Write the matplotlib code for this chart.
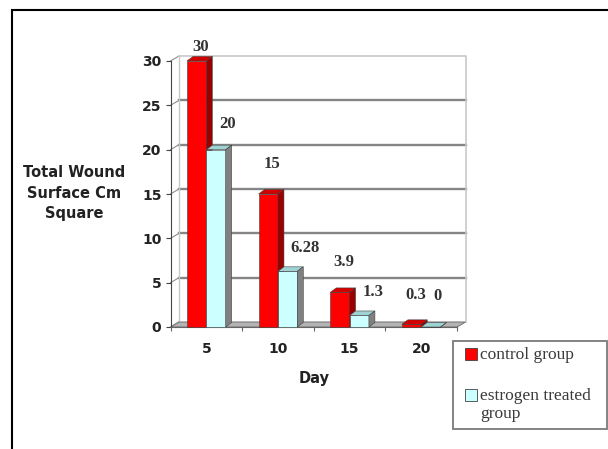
import matplotlib
matplotlib.use("Agg")
import matplotlib.pyplot as plt
from matplotlib.patches import Polygon, Rectangle

# wound surface (cm^2) by day
days = ["5", "10", "15", "20"]
control = [30, 15, 3.9, 0.3]
estrogen = [20, 6.28, 1.3, 0]
series_names = ["control group", "estrogen treated\ngroup"]

W, H = 608, 449
fig = plt.figure(figsize=(W / 100, H / 100), dpi=100)

def fx(px):
    return px / W

def fy(py):
    return 1 - py / H

# front plane of the plot
left, right, top, bottom = 170.5, 457, 61, 327
ax = fig.add_axes([fx(left), fy(bottom), fx(right - left), (bottom - top) / H])
ax.set_xlim(0, 4)
ax.set_ylim(0, 30)

# pixel -> data scale for the fake depth
px_x = (right - left) / 4
px_y = (bottom - top) / 30
wall_dx, wall_dy = 8.5 / px_x, 5 / px_y
bar_dx, bar_dy = 6 / px_x, 4.5 / px_y

# back wall, gridlines and floor
for v in range(5, 30, 5):
    ax.plot([wall_dx, 4 + wall_dx], [v + wall_dy, v + wall_dy], color="#858585",
            lw=1.7, clip_on=False, zorder=1)
for v in range(0, 31, 5):
    ax.plot([0, wall_dx], [v, v + wall_dy], color="#8c8c8c", lw=0.8, clip_on=False, zorder=1)
ax.plot([wall_dx, 4 + wall_dx, 4 + wall_dx], [30 + wall_dy, 30 + wall_dy, wall_dy],
        color="#c8c8c8", lw=1.2, clip_on=False, zorder=1)
ax.plot([wall_dx, wall_dx], [wall_dy, 30 + wall_dy], color="#c8c8c8", lw=1.0,
        clip_on=False, zorder=1)
ax.add_patch(Polygon([(0, 0), (4, 0), (4 + wall_dx, wall_dy), (wall_dx, wall_dy)],
                     closed=True, facecolor="#b4b4b4", edgecolor="#7a7a7a", lw=0.8,
                     clip_on=False, zorder=2))

def bar3d(x0, w, h, front, top_c, side_c, z):
    ax.bar(x0, h, width=w, align="edge", color=front, edgecolor="#404040", lw=0.4,
           clip_on=False, zorder=z)
    ax.add_patch(Polygon([(x0, h), (x0 + w, h), (x0 + w + bar_dx, h + bar_dy),
                          (x0 + bar_dx, h + bar_dy)], closed=True, facecolor=top_c,
                         edgecolor="#404040", lw=0.4, clip_on=False, zorder=z))
    ax.add_patch(Polygon([(x0 + w, 0), (x0 + w + bar_dx, bar_dy),
                          (x0 + w + bar_dx, h + bar_dy), (x0 + w, h)], closed=True,
                         facecolor=side_c, edgecolor="#404040", lw=0.4, clip_on=False,
                         zorder=z))

bw = 0.27
red_dy = [14, 30, 30, 29]
cyan_dy = [26, 23, 23, 31]
label_style = dict(family="Liberation Serif", fontsize=12, fontweight="bold",
                   color="#333333", va="center", textcoords="offset pixels",
                   annotation_clip=False)
for i in range(len(days)):
    c = i + 0.5
    bar3d(c - bw, bw, control[i], "#ff0000", "#d40000", "#990000", 3 + 2 * i)
    bar3d(c, bw, estrogen[i], "#ccffff", "#9fd3d3", "#808080", 4 + 2 * i)
    ax.annotate(f"{control[i]:g}", (c - bw / 2, control[i]), xytext=(4, red_dy[i]),
                ha="center", **label_style)
    ax.annotate(f"{estrogen[i]:g}", (c + bw / 2, estrogen[i]), xytext=(3, cyan_dy[i]),
                ha="left", **label_style)

# axes and ticks
for s in ("top", "right"):
    ax.spines[s].set_visible(False)
ax.spines["left"].set_color("#444444")
ax.spines["bottom"].set_color("#666666")
ax.set_yticks(range(0, 31, 5))
ax.set_xticks(range(5))
ax.set_xticklabels([])
ax.set_xticks([i + 0.5 for i in range(4)], minor=True)
ax.set_xticklabels(days, minor=True)
ax.tick_params(axis="y", length=3.5, width=0.8, color="#444444", pad=3,
               labelsize=10, labelcolor="#222222")
ax.tick_params(axis="x", which="major", length=3, width=0.8, color="#666666")
ax.tick_params(axis="x", which="minor", length=0, pad=11, labelsize=10,
               labelcolor="#222222")
for t in ax.get_yticklabels() + ax.get_xticklabels(minor=True):
    t.set_fontweight("bold")
ax.patch.set_visible(False)

fig.text(fx(74), fy(193), "Total Wound\nSurface Cm\nSquare", ha="center", va="center",
         multialignment="center", fontsize=10.5, fontweight="bold", linespacing=1.45,
         color="#222222")
fig.text(fx(314), fy(378), "Day", ha="center", va="center", fontsize=10.5,
         fontweight="bold", color="#222222")

# legend box
fig.patches.append(Rectangle((fx(453), fy(429)), fx(154), (429 - 341) / H,
                             transform=fig.transFigure, fill=False, edgecolor="#7a7a7a",
                             lw=1.3))
for yy, col in ((354, "#ff0000"), (395, "#ccffff")):
    fig.patches.append(Rectangle((fx(465), fy(yy + 6)), fx(12), 12 / H,
                                 transform=fig.transFigure, facecolor=col,
                                 edgecolor="#404040", lw=0.6))
fig.text(fx(480), fy(355), series_names[0], ha="left", va="center",
         family="Liberation Serif", fontsize=12.5, color="#3a3a3a")
fig.text(fx(480), fy(405), series_names[1], ha="left", va="center",
         family="Liberation Serif", fontsize=12.5, color="#3a3a3a", linespacing=1.2)

# outer frame
fig.patches.append(Rectangle((fx(11.6), -0.1), 1.2, fy(10) + 0.1,
                             transform=fig.transFigure, fill=False, edgecolor="black",
                             lw=1.5))

fig.savefig("out.png", dpi=100)
